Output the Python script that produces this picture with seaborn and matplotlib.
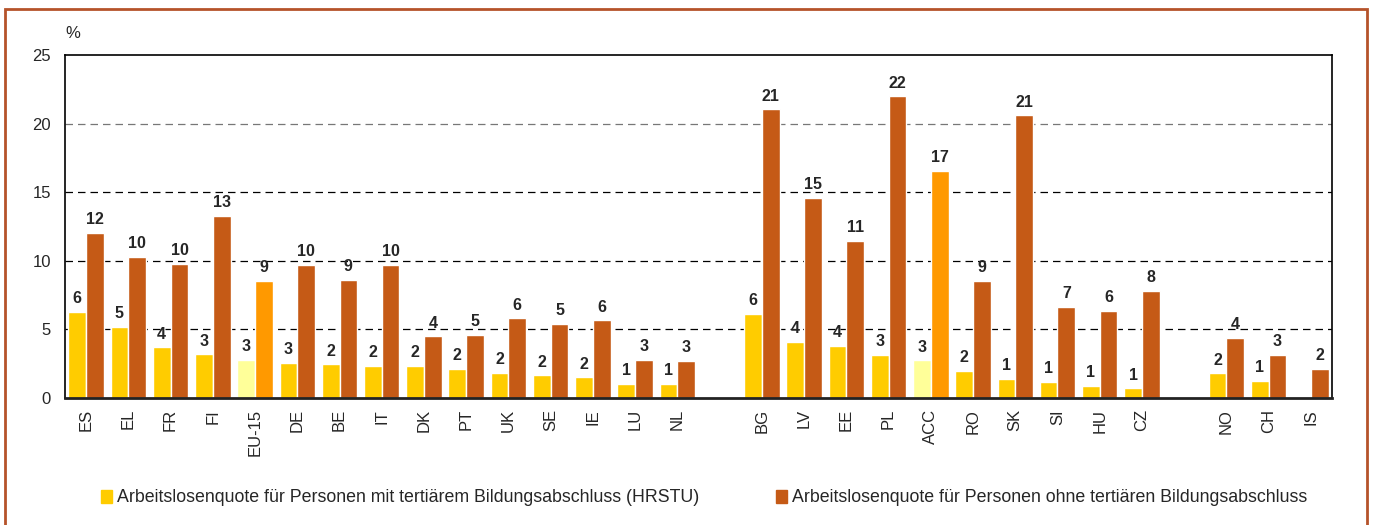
import pandas as pd
import matplotlib.pyplot as plt
import seaborn as sns
from matplotlib.patches import Rectangle

# categories (blank slots are the gaps between country groups)
countries = ['ES', 'EL', 'FR', 'FI', 'EU-15', 'DE', 'BE', 'IT', 'DK', 'PT', 'UK', 'SE', 'IE', 'LU', 'NL',
             'gap1',
             'BG', 'LV', 'EE', 'PL', 'ACC', 'RO', 'SK', 'SI', 'HU', 'CZ',
             'gap2',
             'NO', 'CH', 'IS']

# unemployment rate, persons with tertiary education (HRSTU)
with_tertiary = [6.3, 5.2, 3.7, 3.2, 2.8, 2.55, 2.45, 2.35, 2.35, 2.15, 1.85, 1.65, 1.5, 1.05, 1.05,
                 None,
                 6.15, 4.1, 3.8, 3.15, 2.75, 2.0, 1.4, 1.2, 0.9, 0.7,
                 None,
                 1.8, 1.25, None]

# unemployment rate, persons without tertiary education
without_tertiary = [12.05, 10.3, 9.8, 13.3, 8.55, 9.7, 8.6, 9.7, 4.5, 4.6, 5.8, 5.4, 5.65, 2.8, 2.7,
                    None,
                    21.05, 14.6, 11.45, 22.0, 16.55, 8.55, 20.6, 6.65, 6.35, 7.8,
                    None,
                    4.4, 3.15, 2.15]

aggregates = ['EU-15', 'ACC']

lab1 = 'Arbeitslosenquote für Personen mit tertiärem Bildungsabschluss (HRSTU)'
lab2 = 'Arbeitslosenquote für Personen ohne tertiären Bildungsabschluss'

df = pd.DataFrame({'country': countries, lab1: with_tertiary, lab2: without_tertiary})
df = df.melt(id_vars='country', var_name='series', value_name='rate').dropna()

sns.set_style('white')
plt.rcParams['font.family'] = ['Liberation Sans', 'DejaVu Sans']

fig = plt.figure(figsize=(13.74, 5.25), dpi=100)
ax = fig.add_axes([65 / 1374, 1 - 398 / 525, 1267 / 1374, 343 / 525])

colors = {lab1: '#FFCC00', lab2: '#C55A16'}
sns.barplot(data=df, x='country', y='rate', hue='series', order=countries, hue_order=[lab1, lab2],
            palette=colors, width=0.84, saturation=1, ax=ax, legend=False)

# highlight the aggregates
highlight = [{'EU-15': '#FFFF99', 'ACC': '#FFFF99'}, {'EU-15': '#FF9900', 'ACC': '#FF9900'}]
for cont, hl in zip(ax.containers, highlight):
    labels = []
    for bar in cont:
        idx = int(round(bar.get_x() + bar.get_width() / 2))
        name = countries[idx]
        if name in aggregates:
            bar.set_facecolor(hl[name])
        labels.append(f'{bar.get_height():.0f}')
    ax.bar_label(cont, labels=labels, padding=4, fontsize=11.5, fontweight='bold')

ax.set_ylim(0, 25)
ax.set_xlim(-0.5, len(countries) - 0.5)
ax.set_yticks([0, 5, 10, 15, 20, 25])
ax.set_xticks(range(len(countries)))
ax.set_xticklabels(['' if c.startswith('gap') else c for c in countries], rotation=90)
ax.set_xticks([i - 0.5 for i in range(len(countries) + 1)], minor=True)
ax.tick_params(axis='x', which='major', length=0, pad=8, labelsize=12)
ax.tick_params(axis='x', which='minor', length=5, direction='inout', width=1, color='#333333')
ax.tick_params(axis='y', length=0, pad=10, labelsize=12)
ax.set_xlabel('')
ax.set_ylabel('')

ax.yaxis.grid(True, color='black', linestyle=(0, (6, 4)), linewidth=0.9)
ax.set_axisbelow(True)
for line, tick in zip(ax.get_ygridlines(), ax.get_yticks()):
    if tick == 20:
        line.set_color('#777777')
    if tick in (0, 25):
        line.set_visible(False)

for side in ['top', 'right', 'left']:
    ax.spines[side].set_color('black')
    ax.spines[side].set_linewidth(1.2)
ax.spines['bottom'].set_color('#222222')
ax.spines['bottom'].set_linewidth(2)

fig.text(73 / 1374, 1 - 33 / 525, '%', fontsize=12, va='center', ha='center')

handles = [Rectangle((0, 0), 1, 1, color=colors[lab1]), Rectangle((0, 0), 1, 1, color=colors[lab2])]
fig.legend(handles, [lab1, lab2], loc='center left', bbox_to_anchor=(101 / 1374, 1 - 498 / 525),
           ncol=2, frameon=False, fontsize=12.8, handlelength=0.62, handleheight=0.7,
           handletextpad=0.28, columnspacing=4.3, borderaxespad=0, borderpad=0)

# outer frame
fig.patches.append(Rectangle((5 / 1374, -0.05), 1362 / 1374, 1.05 - 9 / 525, transform=fig.transFigure,
                             fill=False, edgecolor='#B5532A', linewidth=2))

fig.savefig('out.png', dpi=100)
